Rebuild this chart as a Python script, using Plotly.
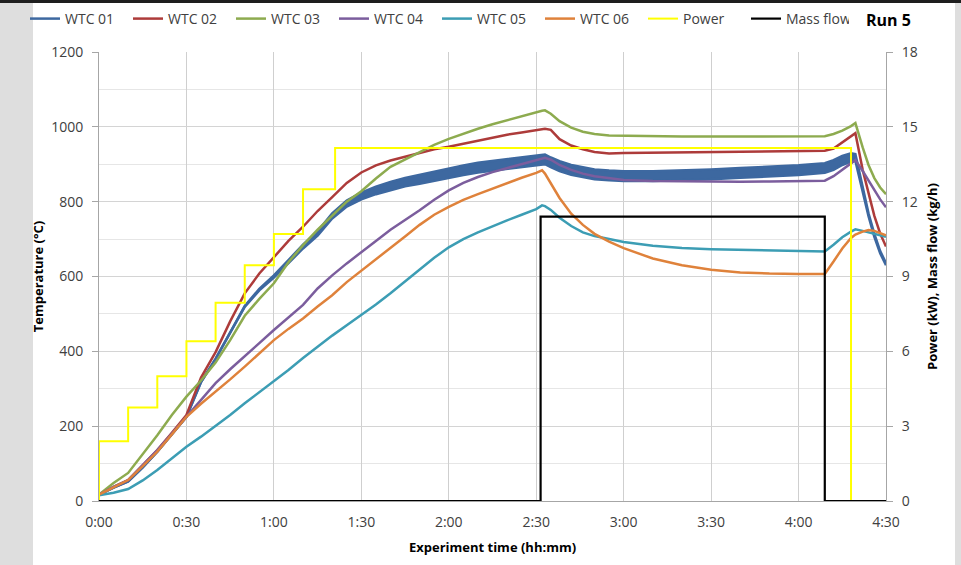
import plotly.graph_objects as go

# ---------------- data ----------------
time_min = [0, 5, 10, 15, 20, 25, 30, 35, 40, 45, 50, 55, 60, 65, 70, 75, 80, 85, 90, 95,
            100, 105, 110, 115, 120, 125, 130, 135, 140, 145, 150, 152, 153, 155, 158, 162,
            166, 170, 175, 180, 190, 200, 210, 220, 230, 240, 249, 252, 255, 258, 259.5,
            262, 264, 266, 268, 270]

wtc01 = [17, 36, 52, 90, 132, 178, 225, 318, 380, 450, 520, 565, 600, 640, 680, 715, 762, 795, 815, 830,
         842, 852, 860, 868, 877, 884, 891, 896, 901, 905, 910, 912, 913, 905, 895, 885,
         878, 873, 870, 868, 868, 870, 873, 877, 880, 884, 890, 898, 910, 918, 918,
         830, 765, 710, 665, 633]
wtc01_spread = [0, 0, 0, 0, 0, 0, 0, 0, 0, 0, 1, 2, 3, 4, 5, 6, 7, 8, 9, 10,
                11, 11, 12, 12, 13, 13, 13, 13, 13, 13, 13, 13, 13, 13, 13, 13,
                13, 13, 13, 13, 13, 13, 13, 13, 13, 13, 13, 13, 12, 11, 9,
                5, 4, 4, 3, 3]
wtc02 = [17, 38, 56, 95, 136, 182, 230, 330, 398, 480, 555, 608, 653, 695, 733, 775, 812, 850, 878, 897,
         910, 920, 931, 940, 947, 955, 964, 972, 979, 985, 991, 994, 995, 992, 967, 950,
         940, 933, 929, 930, 931, 932, 932, 933, 934, 935, 936, 942, 958, 975, 983,
         885, 820, 762, 715, 680]
wtc03 = [17, 48, 75, 125, 176, 230, 279, 322, 370, 430, 495, 540, 582, 638, 684, 725, 762, 800, 828, 862,
         893, 913, 933, 952, 968, 982, 995, 1007, 1018, 1028, 1038, 1043, 1044, 1035, 1015, 998,
         987, 981, 977, 976, 975, 974, 974, 974, 975, 974, 975, 981, 990, 1002, 1010,
         945, 898, 863, 838, 820]
wtc04 = [17, 38, 56, 95, 136, 180, 225, 272, 315, 352, 386, 422, 457, 490, 524, 568, 603, 635, 664, 695,
         725, 750, 777, 805, 830, 850, 866, 879, 890, 901, 911, 915, 917, 912, 898, 885,
         875, 868, 862, 858, 855, 854, 853, 853, 854, 854, 856, 868, 885, 902, 911,
         882, 856, 830, 806, 785]
wtc05 = [15, 22, 32, 55, 83, 113, 145, 172, 200, 230, 261, 290, 319, 350, 382, 413, 442, 470, 497, 525,
         555, 587, 617, 650, 678, 700, 718, 735, 750, 765, 780, 790, 788, 778, 757, 735,
         718, 708, 700, 692, 682, 676, 673, 671, 669, 667, 667, 685, 705, 720, 726,
         722, 718, 714, 710, 706]
wtc06 = [17, 36, 56, 93, 132, 178, 225, 260, 292, 325, 359, 395, 430, 460, 488, 520, 550, 585, 615, 645,
         675, 707, 738, 765, 786, 805, 820, 835, 850, 864, 877, 884, 875, 850, 810, 768,
         738, 714, 693, 676, 648, 630, 618, 611, 608, 607, 607, 640, 675, 703, 712,
         720, 724, 722, 716, 710]

power_time = [0, 0, 10, 20, 30, 40, 50, 60, 70, 81, 258, 270]
power_kw = [0, 2.4, 3.75, 5.0, 6.4, 7.95, 9.45, 10.7, 12.5, 14.15, 0, 0]

mass_time = [0, 151.5, 249, 270]
mass_flow = [0, 11.4, 0, 0]

x_tickvals = [0, 30, 60, 90, 120, 150, 180, 210, 240, 270]
x_ticktext = ["0:00", "0:30", "1:00", "1:30", "2:00", "2:30", "3:00", "3:30", "4:00", "4:30"]

# ---------------- styling ----------------
C_BLUE = "#3d68a0"
C_RED = "#ad3b3a"
C_GREEN = "#8dab4f"
C_PURPLE = "#7b5d9d"
C_TEAL = "#3c9db4"
C_ORANGE = "#df823b"
FONT = "Open Sans"
LW = 2.5

fig = go.Figure()

blue_lo = [c - s for c, s in zip(wtc01, wtc01_spread)]
blue_hi = [c + s for c, s in zip(wtc01, wtc01_spread)]
fig.add_trace(go.Scatter(x=time_min, y=blue_lo, mode="lines", name="WTC 01",
                         legendgroup="w1", line=dict(color=C_BLUE, width=LW)))
fig.add_trace(go.Scatter(x=time_min, y=blue_hi, mode="lines", name="WTC 01",
                         legendgroup="w1", showlegend=False, fill="tonexty",
                         fillcolor=C_BLUE, line=dict(color=C_BLUE, width=LW)))

for name, vals, col in [("WTC 02", wtc02, C_RED), ("WTC 03", wtc03, C_GREEN),
                        ("WTC 04", wtc04, C_PURPLE), ("WTC 05", wtc05, C_TEAL),
                        ("WTC 06", wtc06, C_ORANGE)]:
    fig.add_trace(go.Scatter(x=time_min, y=vals, mode="lines", name=name,
                             line=dict(color=col, width=LW)))

fig.add_trace(go.Scatter(x=power_time, y=power_kw, mode="lines", name="Power",
                         yaxis="y2", line=dict(color="#ffff00", width=2, shape="hv")))
fig.add_trace(go.Scatter(x=mass_time, y=mass_flow, mode="lines", name="Mass flow",
                         yaxis="y2", line=dict(color="#000000", width=2.2, shape="hv")))

L, R, T, B = 99, 75, 52, 64
W, H = 961, 565
pw, ph = W - L - R, H - T - B

def px_x(p):
    return (p - L) / pw

def px_y(p):
    return (H - B - p) / ph

fig.update_layout(
    width=W, height=H,
    margin=dict(l=L, r=R, t=T, b=B, pad=0, autoexpand=False),
    paper_bgcolor="#dedede",
    plot_bgcolor="#ffffff",
    font=dict(family=FONT, size=14, color="#404040"),
    showlegend=True,
    legend=dict(orientation="h", x=px_x(25), xanchor="left", y=px_y(19), yanchor="middle",
                entrywidth=58, entrywidthmode="pixels", bgcolor="rgba(0,0,0,0)",
                font=dict(family=FONT, size=14, color="#404040"), traceorder="normal"),
    xaxis=dict(range=[0, 270], tickvals=x_tickvals, ticktext=x_ticktext,
               showgrid=True, gridcolor="#cfcfcf", gridwidth=1, zeroline=False,
               showline=True, linecolor="#a6a6a6", ticks="", ticklabelstandoff=8,
               tickfont=dict(size=14, color="#404040"),
               title=dict(text="<b>Experiment time (hh:mm)</b>", standoff=13,
                          font=dict(size=13, color="#000000"))),
    yaxis=dict(range=[0, 1200], dtick=200, showgrid=True, gridcolor="#d4d4d4", zeroline=False,
               showline=True, linecolor="#a6a6a6", ticks="outside", ticklen=6,
               tickcolor="#a6a6a6", ticklabelstandoff=6,
               minor=dict(dtick=100, showgrid=True, gridcolor="#e6e6e6"),
               tickfont=dict(size=14, color="#404040"),
               title=dict(text="<b>Temperature (°C)</b>", standoff=4,
                          font=dict(size=13, color="#000000"))),
    yaxis2=dict(range=[0, 18], dtick=3, overlaying="y", side="right", showgrid=False,
                zeroline=False, showline=True, linecolor="#a6a6a6", ticks="outside",
                ticklen=6, tickcolor="#a6a6a6", ticklabelstandoff=6,
                tickfont=dict(size=14, color="#404040"),
                title=dict(text="<b>Power (kW), Mass flow (kg/h)</b>", standoff=11,
                           font=dict(size=13, color="#000000"))),
    shapes=[
        dict(type="rect", xref="paper", yref="paper", x0=px_x(33), x1=px_x(955),
             y0=px_y(565), y1=px_y(3), fillcolor="#ffffff", line=dict(width=0), layer="below"),
        dict(type="rect", xref="paper", yref="paper", x0=px_x(0), x1=px_x(961),
             y0=px_y(3), y1=px_y(0), fillcolor="#1e1e1e", line=dict(width=0), layer="below"),
    ],
    annotations=[
        dict(text="<b>Run 5</b>", xref="paper", yref="paper", x=px_x(889), y=px_y(20),
             xanchor="center", yanchor="middle", showarrow=False,
             font=dict(family=FONT, size=16, color="#000000")),
    ],
)

fig.write_html("out.html", config={"displayModeBar": False},
               post_script="document.body.style.margin='0';document.body.style.overflow='hidden';")
